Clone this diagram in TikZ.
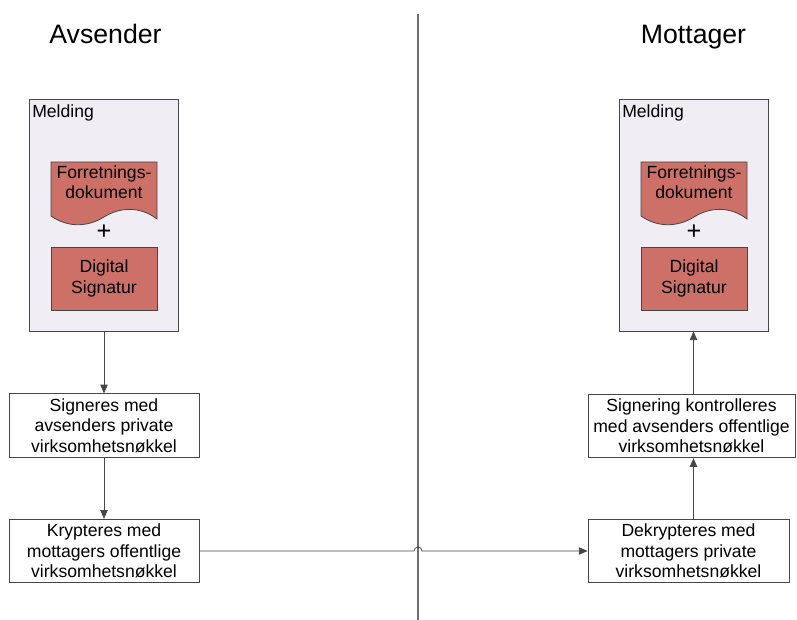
\documentclass[tikz,border=0pt]{standalone}
\usepackage{fontspec}
\setmainfont{Liberation Sans}
\usetikzlibrary{arrows.meta,calc}
\definecolor{docred}{RGB}{205,112,104}
\definecolor{msgfill}{RGB}{240,238,244}
\definecolor{edge}{RGB}{70,70,70}
\definecolor{divider}{RGB}{110,110,110}
\begin{document}
\begin{tikzpicture}[x=0.75pt,y=-0.75pt,
  every node/.style={font=\fontsize{13.2}{15.4}\selectfont},
  title/.style={font=\fontsize{20}{24}\selectfont, anchor=base},
  msgbox/.style={draw=edge, fill=msgfill, line width=0.6pt, minimum width=111.75pt, minimum height=174pt, inner sep=0pt},
  sigbox/.style={draw=edge, fill=docred, line width=0.6pt, minimum width=79.5pt, minimum height=47.25pt, align=center, inner sep=0pt},
  stepbox/.style={draw=edge, fill=white, line width=0.6pt, minimum height=47.6pt, align=center, inner sep=0pt},
  doc/.style={draw=edge, fill=docred, line width=0.6pt},
  conn/.style={draw=edge, line width=0.6pt, -{Triangle[length=6.5pt,width=5.5pt]}},
  line/.style={draw=edge, line width=0.6pt}]
\useasboundingbox (0,0) rectangle (797,620);

% divider
\coordinate (vtop) at (418,14);
\coordinate (vbot) at (418,620);
\draw[divider, line width=0.9pt] (vtop) -- (vbot);

% titles
\node[title] (tA) at (105.5,44) {Avsender};
\node[title] (tM) at (693.5,44) {Mottager};

% left message
\node[msgbox] (msgL) at (103.5,215) {};
\node[anchor=base west, inner sep=0pt] (melL) at (32,118) {Melding};
\draw[doc] (51,162) -- (157,162) -- (157,219)
  .. controls (140,206) and (120,207) .. (104,217)
  .. controls (88,227) and (68,228) .. (51,216) -- cycle;
\node[align=center, inner sep=0pt] (docL) at (104,182) {Forretnings-\\dokument};
\node[font=\fontsize{19}{20}\selectfont, inner sep=0pt] (plusL) at (104,232) {+};
\node[sigbox] (sigL) at (104,278.5) {Digital\\Signatur};

% right message
\node[msgbox] (msgR) at (693.5,215) {};
\node[anchor=base west, inner sep=0pt] (melR) at (622,118) {Melding};
\draw[doc] (641,162) -- (747,162) -- (747,219)
  .. controls (730,206) and (710,207) .. (694,217)
  .. controls (678,227) and (658,228) .. (641,216) -- cycle;
\node[align=center, inner sep=0pt] (docR) at (694,182) {Forretnings-\\dokument};
\node[font=\fontsize{19}{20}\selectfont, inner sep=0pt] (plusR) at (694,232) {+};
\node[sigbox] (sigR) at (694,278.5) {Digital\\Signatur};

% left steps
\node[stepbox, minimum width=142.5pt] (sign) at (104,425.5) {Signeres med\\avsenders private\\virksomhetsnøkkel};
\node[stepbox, minimum width=142.5pt] (kryp) at (104,551) {Krypteres med\\mottagers offentlige\\virksomhetsnøkkel};

% right steps
\node[stepbox, minimum width=155.25pt] (ctrl) at (691.5,426) {Signering kontrolleres\\med avsenders offentlige\\virksomhetsnøkkel};
\node[stepbox, minimum width=150.75pt] (dekr) at (688.5,551) {Dekrypteres med\\mottagers private\\virksomhetsnøkkel};

% connectors
\coordinate (lx) at (sign.north);
\draw[conn] (msgL.south -| lx) -- (sign.north);
\draw[conn] (sign.south) -- (kryp.north);
\coordinate (hop) at (vtop |- kryp.east);
\draw[conn] (kryp.east) -- ([xshift=-3pt]hop) arc[start angle=180, end angle=0, radius=3pt] -- (dekr.west);
\coordinate (rx) at (msgR.south);
\draw[conn] (dekr.north -| rx) -- (ctrl.south -| rx);
\draw[conn] (ctrl.north -| rx) -- (msgR.south);
\end{tikzpicture}
\end{document}
